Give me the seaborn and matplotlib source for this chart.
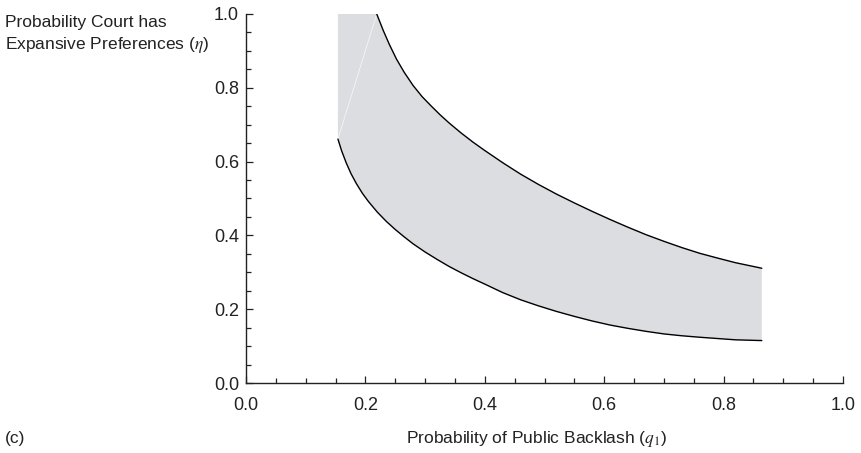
import matplotlib
matplotlib.use("Agg")
import matplotlib.pyplot as plt
import seaborn as sns
import pandas as pd
from matplotlib.ticker import MultipleLocator

# ---- data ----
q_lower = [0.154, 0.160, 0.168, 0.176, 0.185, 0.195, 0.205, 0.220, 0.235, 0.250,
           0.265, 0.280, 0.300, 0.320, 0.340, 0.360, 0.380, 0.400, 0.430, 0.460,
           0.490, 0.520, 0.550, 0.580, 0.610, 0.640, 0.670, 0.700, 0.730, 0.760,
           0.790, 0.820, 0.864]
eta_lower = [0.661, 0.630, 0.596, 0.567, 0.540, 0.514, 0.492, 0.463, 0.438, 0.416,
             0.396, 0.377, 0.355, 0.335, 0.316, 0.299, 0.283, 0.268, 0.245, 0.2255,
             0.209, 0.194, 0.1805, 0.168, 0.157, 0.148, 0.140, 0.133, 0.128, 0.124,
             0.1205, 0.117, 0.115]

q_upper = [0.219, 0.230, 0.240, 0.252, 0.265, 0.280, 0.295, 0.310, 0.325, 0.340,
           0.360, 0.380, 0.400, 0.430, 0.460, 0.490, 0.520, 0.550, 0.580, 0.610,
           0.640, 0.670, 0.700, 0.730, 0.760, 0.790, 0.820, 0.864]
eta_upper = [1.000, 0.955, 0.918, 0.878, 0.842, 0.806, 0.776, 0.751, 0.727, 0.705,
             0.678, 0.653, 0.630, 0.597, 0.566, 0.538, 0.512, 0.488, 0.465, 0.443,
             0.422, 0.402, 0.384, 0.367, 0.3515, 0.3385, 0.326, 0.311]

x_ticks = [0.0, 0.2, 0.4, 0.6, 0.8, 1.0]
y_ticks = [0.0, 0.2, 0.4, 0.6, 0.8, 1.0]

xlabel = "Probability of Public Backlash ($q_1$)"
ylabel = "Probability Court has\nExpansive Preferences ($\\eta$)"
panel = "(c)"

# ---- style ----
sns.set_style("ticks")
plt.rcParams["font.family"] = ["Liberation Sans", "DejaVu Sans"]
plt.rcParams["mathtext.fontset"] = "stix"

fig = plt.figure(figsize=(8.61, 4.53), dpi=100)
ax = fig.add_axes([246 / 861, 70 / 453, 597 / 861, 369 / 453])

lower = pd.DataFrame({"q": q_lower, "eta": eta_lower})
upper = pd.DataFrame({"q": q_upper, "eta": eta_upper})

# shaded region between the curves
poly_x = [q_lower[0], q_lower[0]] + q_upper + q_lower[::-1]
poly_y = [eta_lower[0], 1.0] + eta_upper + eta_lower[::-1]
ax.fill(poly_x, poly_y, color="#dcdde0", lw=0, zorder=1)
# faint rendering seam seen in the reference
ax.plot([q_lower[0], q_upper[0]], [eta_lower[0], eta_upper[0]],
        color="white", lw=0.6, alpha=0.7, zorder=1.5)

sns.lineplot(data=lower, x="q", y="eta", color="black", lw=1.0, ax=ax,
             sort=False, estimator=None, zorder=2)
sns.lineplot(data=upper, x="q", y="eta", color="black", lw=1.0, ax=ax,
             sort=False, estimator=None, zorder=2)

ax.set_xlim(0, 1)
ax.set_ylim(0, 1)
ax.set_xticks(x_ticks)
ax.set_yticks(y_ticks)
ax.set_xticklabels([f"{t:.1f}" for t in x_ticks])
ax.set_yticklabels([f"{t:.1f}" for t in y_ticks])
ax.xaxis.set_minor_locator(MultipleLocator(0.05))
ax.yaxis.set_minor_locator(MultipleLocator(0.05))
ax.tick_params(which="both", direction="in", color="#222222", width=0.9)
ax.tick_params(which="major", length=5.2, labelsize=13, labelcolor="#222222")
ax.tick_params(which="minor", length=3.4)
ax.tick_params(axis="x", which="major", pad=10)
ax.tick_params(axis="y", which="major", pad=5)
for s in ["top", "right"]:
    ax.spines[s].set_visible(False)
for s in ["left", "bottom"]:
    ax.spines[s].set_color("#222222")
    ax.spines[s].set_linewidth(1.0)
ax.set_xlabel("")
ax.set_ylabel("")

fig.text(536 / 861, 1 - 439 / 453, xlabel, ha="center", va="center",
         fontsize=12.5, color="#222222")
fig.text(5 / 861, 1 - 35 / 453, ylabel, ha="left", va="center",
         fontsize=12.5, color="#222222", linespacing=1.3)
fig.text(5 / 861, 1 - 438 / 453, panel, ha="left", va="center",
         fontsize=12.5, color="#222222")

fig.savefig("out.png", dpi=100)
